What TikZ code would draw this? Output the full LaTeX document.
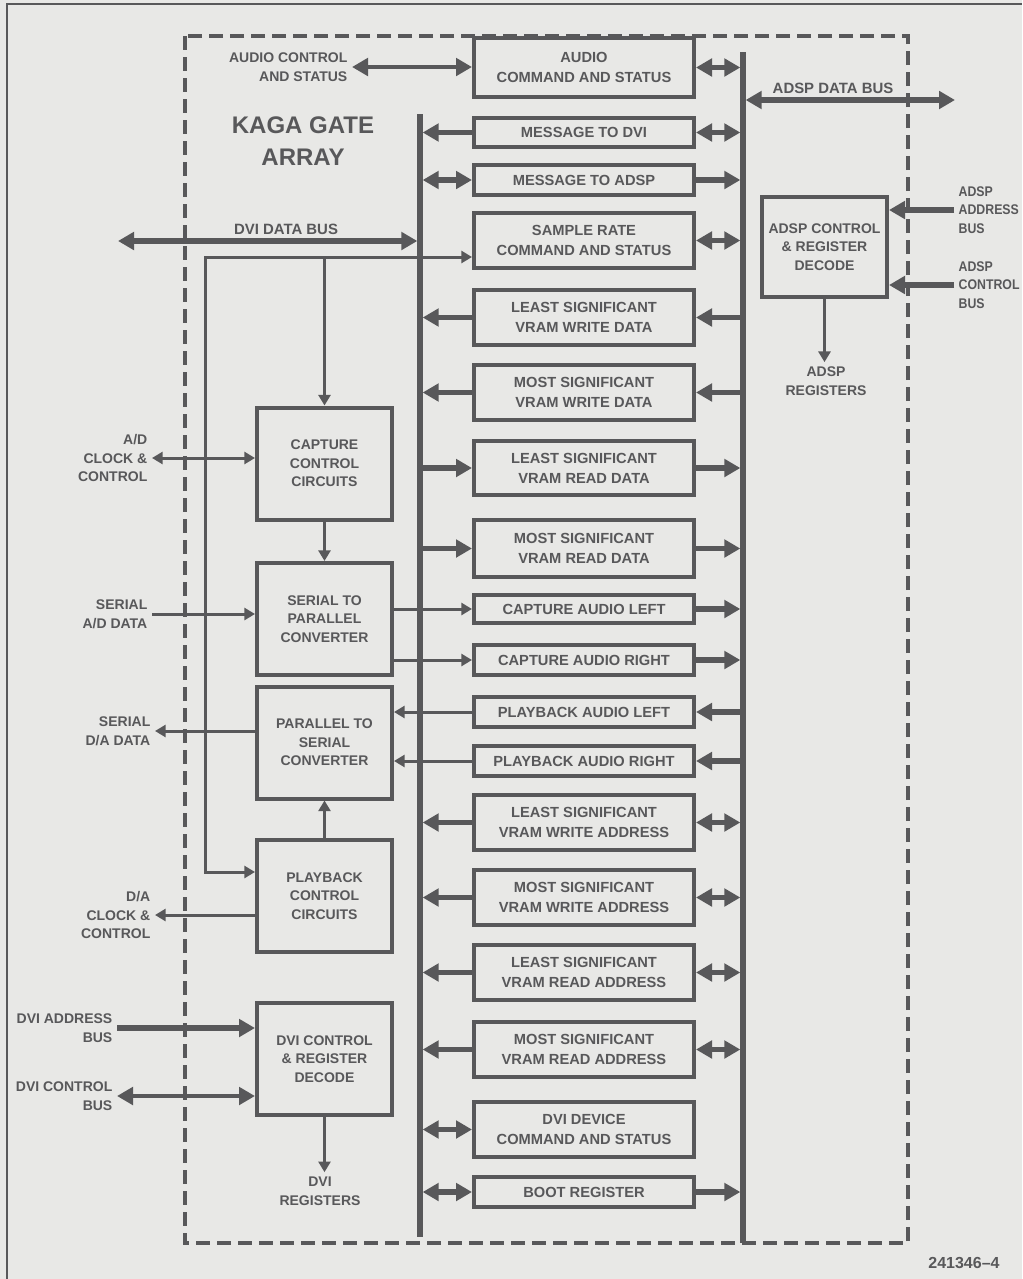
\documentclass[tikz,border=0pt]{standalone}
\usepackage{fontspec}
\usetikzlibrary{arrows.meta}
\newfontfamily\lblfont{Liberation Sans}[Ligatures=TeX, BoldFont={Liberation Sans Bold}]
\newfontfamily\narrowfont{Liberation Sans Bold}[FakeStretch=0.88]
\definecolor{ink}{HTML}{58585A}
\definecolor{paper}{HTML}{E8E8E6}
\newcommand\regfont{\lblfont\bfseries\fontsize{11}{15}\selectfont}
\newcommand\labfont{\lblfont\bfseries\fontsize{10.5}{13.9}\selectfont}
\newcommand\buslabfont{\lblfont\bfseries\fontsize{11.2}{13.9}\selectfont}
\newcommand\narlabfont{\narrowfont\fontsize{10.5}{13.9}\selectfont}
\newcommand\figfont{\lblfont\bfseries\fontsize{12}{14}\selectfont}
\newcommand\kagafont{\lblfont\bfseries\fontsize{18}{24}\selectfont}
\tikzset{
  fatt/.tip={Triangle[length=12pt,width=13pt]},
  thint/.tip={Triangle[length=8pt,width=9pt]},
  reg/.style={draw=ink, line width=3pt, minimum width=165pt, inner sep=0pt, outer sep=1.5pt, align=center, text=ink, font=\regfont},
  blk/.style={draw=ink, line width=3pt, minimum width=101.25pt, minimum height=84pt, inner sep=0pt, outer sep=1.5pt, align=center, text=ink, font=\labfont},
  lab/.style={inner sep=0pt, outer sep=3.5pt, text=ink, font=\labfont},
  bus/.style={draw=ink, line width=4pt},
  fat/.style={draw=ink, line width=4pt},
  med/.style={draw=ink, line width=3pt},
  thinln/.style={draw=ink, line width=2.25pt, line join=miter},
}
\begin{document}
\begin{tikzpicture}[x=0.75pt,y=-0.75pt]
\fill[paper] (0,0) rectangle (1022,1279);
\useasboundingbox (0,0) rectangle (1022,1279);
% outer frame
\draw[ink, line width=1.2pt] (7,1279) -- (7,4) -- (1022,4);
% gate array boundary
\draw[ink, line width=3pt, dash pattern=on 10.5pt off 5.25pt] (185,36) rectangle (908,1243);

% buses
\coordinate (lbT) at (420,114);
\coordinate (lbB) at (420,1237);
\coordinate (rbT) at (743,52);
\coordinate (rbB) at (743,1243);
\draw[bus] (lbT) -- (lbB);
\draw[bus] (rbT) -- (rbB);

% register column
\node[reg, minimum height=44pt]    (r1)  at (584,67.5)  {AUDIO\\COMMAND AND STATUS};
\node[reg, minimum height=22pt]    (r2)  at (584,132.5) {MESSAGE TO DVI};
\node[reg, minimum height=22.5pt]  (r3)  at (584,180)   {MESSAGE TO ADSP};
\node[reg, minimum height=41.25pt] (r4)  at (584,240.5) {SAMPLE RATE\\COMMAND AND STATUS};
\node[reg, minimum height=41.25pt] (r5)  at (584,317.5) {LEAST SIGNIFICANT\\VRAM WRITE DATA};
\node[reg, minimum height=41.25pt] (r6)  at (584,392.5) {MOST SIGNIFICANT\\VRAM WRITE DATA};
\node[reg, minimum height=40.5pt]  (r7)  at (584,468)   {LEAST SIGNIFICANT\\VRAM READ DATA};
\node[reg, minimum height=42.75pt] (r8)  at (584,548.5) {MOST SIGNIFICANT\\VRAM READ DATA};
\node[reg, minimum height=21pt]    (r9)  at (584,609)   {CAPTURE AUDIO LEFT};
\node[reg, minimum height=22.5pt]  (r10) at (584,660)   {CAPTURE AUDIO RIGHT};
\node[reg, minimum height=22.5pt]  (r11) at (584,712)   {PLAYBACK AUDIO LEFT};
\node[reg, minimum height=22.5pt]  (r12) at (584,761)   {PLAYBACK AUDIO RIGHT};
\node[reg, minimum height=41.25pt] (r13) at (584,822.5) {LEAST SIGNIFICANT\\VRAM WRITE ADDRESS};
\node[reg, minimum height=41.25pt] (r14) at (584,897.5) {MOST SIGNIFICANT\\VRAM WRITE ADDRESS};
\node[reg, minimum height=41.25pt] (r15) at (584,972.5) {LEAST SIGNIFICANT\\VRAM READ ADDRESS};
\node[reg, minimum height=41.25pt] (r16) at (584,1049.5){MOST SIGNIFICANT\\VRAM READ ADDRESS};
\node[reg, minimum height=41.25pt] (r17) at (584,1129.5){DVI DEVICE\\COMMAND AND STATUS};
\node[reg, minimum height=22.5pt]  (r18) at (584,1192)  {BOOT REGISTER};

% right-side links
\foreach \r in {r1,r2,r4,r13,r14,r15,r16}
  \draw[fat, fatt-fatt, shorten >=2pt] (\r.east) -- (\r.east -| rbT);
\foreach \r in {r3,r7,r8,r9,r10,r18}
  \draw[fat, -fatt, shorten >=2pt] (\r.east) -- (\r.east -| rbT);
\foreach \r in {r5,r6,r11,r12}
  \draw[fat, -fatt] (\r.east -| rbT) -- (\r.east);

% left-side links
\foreach \r in {r2,r5,r6,r13,r14,r15,r16}
  \draw[fat, -fatt, shorten >=2pt] (\r.west) -- (\r.west -| lbT);
\foreach \r in {r3,r17,r18}
  \draw[fat, fatt-fatt, shorten >=2pt] (\r.west) -- (\r.west -| lbT);
\foreach \r in {r7,r8}
  \draw[fat, -fatt] (\r.west -| lbT) -- (\r.west);

% left blocks
\node[blk] (cc) at (324.5,463.5) {CAPTURE\\CONTROL\\CIRCUITS};
\node[blk] (sp) at (324.5,619)   {SERIAL TO\\PARALLEL\\CONVERTER};
\node[blk] (ps) at (324.5,742.5) {PARALLEL TO\\SERIAL\\CONVERTER};
\node[blk] (pb) at (324.5,896)   {PLAYBACK\\CONTROL\\CIRCUITS};
\node[blk] (dd) at (324.5,1059)  {DVI CONTROL\\\& REGISTER\\DECODE};
% right block
\node[blk, minimum width=93.75pt, minimum height=75pt] (ad) at (824.5,247) {ADSP CONTROL\\\& REGISTER\\DECODE};

% labels
\node[lab, anchor=east, align=right] (acl) at (352,67) {AUDIO CONTROL\\AND STATUS};
\node[inner sep=0pt, text=ink, font=\kagafont, align=center] (kaga) at (303,141) {KAGA GATE\\ARRAY};
\node[lab, font=\buslabfont] (ddbl) at (286,229) {DVI DATA BUS};
\node[lab, anchor=east, align=right] (adcl) at (152,458) {A/D\\CLOCK \&\\CONTROL};
\node[lab, anchor=east, align=right] (sadl) at (152,614) {SERIAL\\A/D DATA};
\node[lab, anchor=east, align=right] (sdal) at (155,731) {SERIAL\\D/A DATA};
\node[lab, anchor=east, align=right] (dacl) at (155,915) {D/A\\CLOCK \&\\CONTROL};
\node[lab, anchor=east, align=right] (dabl) at (117,1028) {DVI ADDRESS\\BUS};
\node[lab, anchor=east, align=right] (dcbl) at (117,1096) {DVI CONTROL\\BUS};
\node[lab, align=center] (dvir) at (320,1191) {DVI\\REGISTERS};
\node[lab, font=\buslabfont] (adbl) at (833,88) {ADSP DATA BUS};
\node[lab, font=\narlabfont, anchor=west, align=left] (aal) at (954,210) {ADSP\\ADDRESS\\BUS};
\node[lab, font=\narlabfont, anchor=west, align=left] (acbl) at (954,285) {ADSP\\CONTROL\\BUS};
\node[lab, align=center] (adsr) at (826,381) {ADSP\\REGISTERS};
\node[lab, font=\figfont] (fig) at (964,1263) {241346–4};

% data buses
\coordinate (ddb) at (118,241);
\draw[fat, fatt-fatt, shorten >=2pt] (ddb) -- (ddb -| lbT);
\coordinate (adb) at (955,100);
\draw[fat, fatt-fatt, shorten <=2pt] (adb -| rbT) -- (adb);

% audio control link
\draw[med, fatt-fatt] (acl.east) -- (acl.east -| r1.west);

% sample-rate distribution
\coordinate (sr) at (205,257);
\coordinate (sr2) at (205,872);
\draw[thinln, thint-thint] (sr -| r4.west) -- (sr) -- (sr2) -- (sr2 -| pb.west);
\draw[thinln, -thint] (sr -| cc.north) -- (cc.north);

% capture / playback paths
\draw[thinln, thint-thint] (adcl.east) -- (adcl.east -| cc.west);
\draw[thinln, -thint] (cc.south) -- (sp.north);
\draw[thinln, -thint] (sadl.east) -- (sadl.east -| sp.west);
\draw[thinln, -thint] (sp.east |- r9.west) -- (r9.west);
\draw[thinln, -thint] (sp.east |- r10.west) -- (r10.west);
\draw[thinln, -thint] (r11.west) -- (r11.west -| ps.east);
\draw[thinln, -thint] (r12.west) -- (r12.west -| ps.east);
\draw[thinln, -thint] (ps.west |- sdal.east) -- (sdal.east);
\draw[thinln, -thint] (pb.north) -- (ps.south);
\draw[thinln, -thint] (pb.west |- dacl.east) -- (dacl.east);

% DVI decode
\draw[fat, -fatt] (dabl.east) -- (dabl.east -| dd.west);
\draw[med, fatt-fatt] (dcbl.east) -- (dcbl.east -| dd.west);
\draw[thinln, -thint] (dd.south) -- (dd.south |- dvir.north);

% ADSP decode
\draw[fat, -fatt] (aal.west) -- (aal.west -| ad.east);
\draw[fat, -fatt] (acbl.west) -- (acbl.west -| ad.east);
\draw[thinln, -thint] (ad.south) -- (ad.south |- adsr.north);
\end{tikzpicture}
\end{document}
